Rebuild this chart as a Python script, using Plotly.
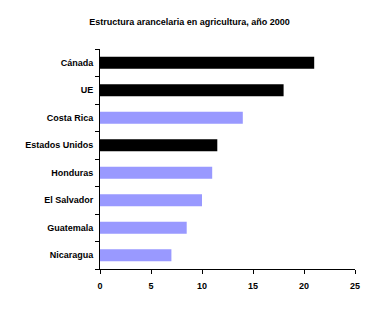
import plotly.graph_objects as go

countries = ["Cánada", "UE", "Costa Rica", "Estados Unidos", "Honduras", "El Salvador", "Guatemala", "Nicaragua"]
values = [21, 18, 14, 11.5, 11, 10, 8.5, 7]
colors = ["#000000", "#000000", "#9999FF", "#000000", "#9999FF", "#9999FF", "#9999FF", "#9999FF"]
x_ticks = [0, 5, 10, 15, 20, 25]

fig = go.Figure(go.Bar(
    x=values, y=countries, orientation="h",
    marker=dict(color=colors, line=dict(width=0)),
    hoverinfo="skip",
))

font = dict(family="Liberation Sans, Arial, sans-serif", size=9, color="#000000")

fig.update_layout(
    width=379, height=312,
    margin=dict(l=100, r=24, t=49, b=43),
    paper_bgcolor="white", plot_bgcolor="white",
    bargap=0.56,
    showlegend=False,
    font=font,
    title=dict(text="<b>Estructura arancelaria en agricultura, año 2000</b>",
               x=0.5, xanchor="center", xref="container",
               y=0.93, yanchor="middle", yref="container",
               font=dict(family="Liberation Sans, Arial, sans-serif", size=9, color="#000000")),
    xaxis=dict(range=[0, 25], tickvals=x_ticks, ticktext=[f"<b>{v}</b>" for v in x_ticks],
               showgrid=False, zeroline=False, showline=True, linecolor="#000000", linewidth=1,
               ticks="outside", ticklen=4, tickcolor="#000000", tickwidth=1, fixedrange=True,
               ticklabelstandoff=4),
    yaxis=dict(categoryorder="array", categoryarray=countries, autorange="reversed",
               tickvals=countries, ticktext=[f"<b>{c}</b>" for c in countries],
               showgrid=False, zeroline=False, showline=True, linecolor="#000000", linewidth=1,
               ticks="outside", ticklen=4, tickcolor="#000000", tickwidth=1, tickson="boundaries",
               ticklabelstandoff=4, fixedrange=True),
)

fig.write_html("out.html", config={"displayModeBar": False})
